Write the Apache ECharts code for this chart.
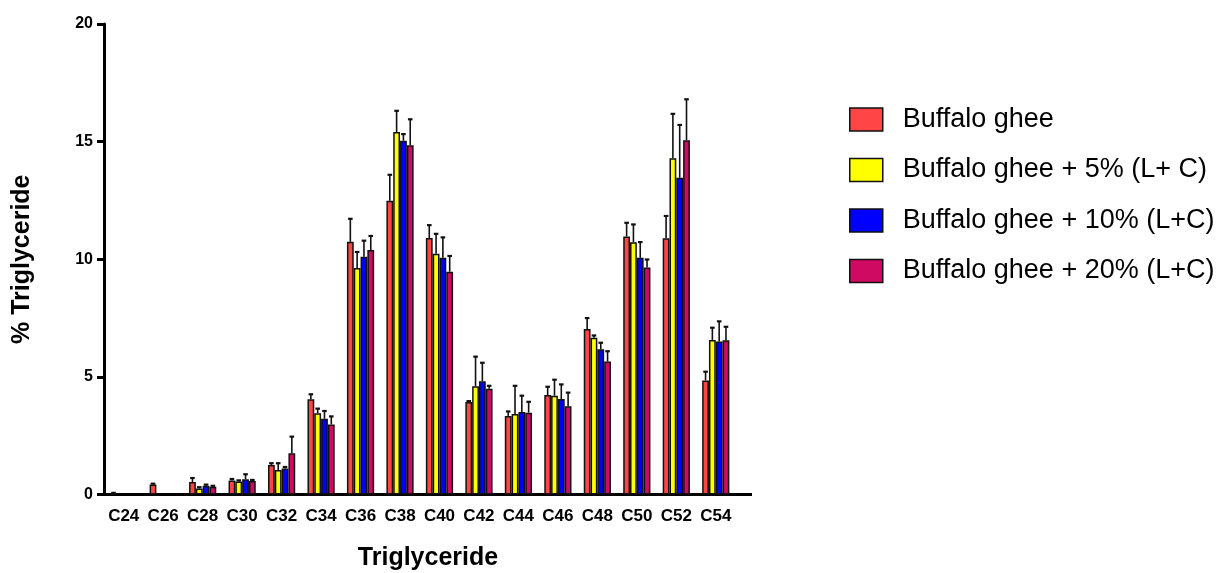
<!DOCTYPE html>
<html><head><meta charset="utf-8">
<script src="https://cdn.jsdelivr.net/npm/echarts@6/dist/echarts.min.js"></script>
<style>html,body{margin:0;padding:0;background:#fff}#c{width:1217px;height:573px}</style>
</head><body><div id="c"></div>
<script>
const categories = ['C24','C26','C28','C30','C32','C34','C36','C38','C40','C42','C44','C46','C48','C50','C52','C54'];
const seriesNames = ['Buffalo ghee','Buffalo ghee + 5% (L+ C)','Buffalo ghee + 10% (L+C)','Buffalo ghee + 20% (L+C)'];
const colors = ['#FF4545','#FFFF00','#0000FF','#CF0A62'];
const yTicks = [0,5,10,15,20];

const ghee    = [0.05, 0.42, 0.53, 0.60, 1.25, 4.05, 10.74, 12.49, 10.90, 3.93, 3.34, 4.23, 7.03, 10.97, 10.89, 4.85];
const ghee5   = [null, null, 0.26, 0.55, 1.04, 3.45, 9.63, 15.41, 10.23, 4.60, 3.42, 4.20, 6.66, 10.72, 14.29, 6.57];
const ghee10  = [null, null, 0.37, 0.65, 1.10, 3.22, 10.11, 15.04, 10.06, 4.81, 3.51, 4.06, 6.17, 10.06, 13.46, 6.50];
const ghee20  = [null, null, 0.33, 0.57, 1.75, 2.98, 10.39, 14.85, 9.47, 4.50, 3.48, 3.75, 5.65, 9.65, 15.06, 6.56];

const gheeErr   = [0.02, 0.04, 0.17, 0.06, 0.08, 0.21, 0.98, 1.10, 0.55, 0.04, 0.19, 0.35, 0.47, 0.58, 0.95, 0.37];
const ghee5Err  = [null, null, 0.05, 0.05, 0.29, 0.20, 0.68, 0.90, 0.85, 1.26, 1.20, 0.68, 0.10, 0.76, 1.89, 0.52];
const ghee10Err = [null, null, 0.05, 0.21, 0.07, 0.33, 0.68, 0.28, 0.87, 0.79, 0.69, 0.62, 0.28, 0.67, 2.25, 0.86];
const ghee20Err = [null, null, 0.04, 0.05, 0.71, 0.34, 0.60, 1.10, 0.67, 0.12, 0.46, 0.58, 0.44, 0.34, 1.74, 0.57];

const values = [ghee, ghee5, ghee10, ghee20];
const errors = [gheeErr, ghee5Err, ghee10Err, ghee20Err];

const FONT = "'Liberation Sans', Arial, sans-serif";
const GAP = 0.31;
const gridLeft = 104, gridRight = 481.5, gridTop = 24, gridBottom = 78.5;

function makeErr(si) {
  return function (params, api) {
    const cat = api.value(0), v = api.value(1), e = api.value(2);
    if (v == null || isNaN(v) || isNaN(e)) return;
    const band = api.size([1, 0])[0];
    const bw = band * (1 - GAP) / 4;
    const base = api.coord([cat, v]);
    const top = api.coord([cat, v + e]);
    const x = base[0] + (si - 1.5) * bw;
    return {
      type: 'group',
      children: [
        { type: 'line', shape: { x1: x, y1: base[1], x2: x, y2: top[1] }, style: { stroke: '#111', lineWidth: 1.6 } },
        { type: 'line', shape: { x1: x - 2.3, y1: top[1], x2: x + 2.3, y2: top[1] }, style: { stroke: '#111', lineWidth: 2.2 } }
      ]
    };
  };
}

const series = [];
values.forEach((vals, i) => {
  series.push({
    name: seriesNames[i], type: 'bar', data: vals,
    barGap: '0%', barCategoryGap: (GAP * 100) + '%',
    itemStyle: { color: colors[i], borderColor: '#111', borderWidth: 1.5 },
    z: 2
  });
});
values.forEach((vals, i) => {
  series.push({
    name: 'err' + i, type: 'custom', renderItem: makeErr(i), z: 3,
    data: vals.map((v, k) => [k, v == null ? NaN : v, errors[i][k] == null ? NaN : errors[i][k]])
  });
});

const chart = echarts.init(document.getElementById('c'), null, { renderer: 'canvas' });
chart.setOption({
  animation: false,
  backgroundColor: '#fff',
  textStyle: { fontFamily: FONT },
  grid: { left: gridLeft, right: gridRight, top: gridTop, bottom: gridBottom, containLabel: false, outerBoundsMode: 'none' },
  legend: {
    data: seriesNames, orient: 'vertical', left: 849, top: 106, padding: 0,
    itemWidth: 33, itemHeight: 23, itemGap: 23.5, icon: 'rect',
    itemStyle: { borderColor: '#111', borderWidth: 1.5 },
    textStyle: { fontFamily: FONT, fontSize: 27, color: '#000', lineHeight: 23, padding: [0, 0, 0, 15] }
  },
  xAxis: {
    type: 'category', data: categories,
    axisLine: { lineStyle: { color: '#000', width: 3 } },
    axisTick: { alignWithLabel: true, length: 7, lineStyle: { color: '#000', width: 3 } },
    axisLabel: { color: '#000', fontSize: 17, fontWeight: 'bold', margin: 13, fontFamily: FONT, interval: 0 },
    splitLine: { show: false }
  },
  yAxis: {
    type: 'value', min: 0, max: yTicks[yTicks.length - 1], interval: 5,
    name: '% Triglyceride', nameLocation: 'middle', nameRotate: 90, nameGap: 69,
    nameTextStyle: { fontSize: 25, fontWeight: 'bold', color: '#000', fontFamily: FONT },
    axisLine: { show: true, lineStyle: { color: '#000', width: 3 } },
    axisTick: { show: true, length: 7, lineStyle: { color: '#000', width: 3 } },
    axisLabel: { color: '#000', fontSize: 16, fontWeight: 'bold', margin: 11, fontFamily: FONT },
    splitLine: { show: false }
  },
  graphic: [
    { type: 'line', shape: { x1: 1217 - gridRight - 1, y1: 573 - gridBottom, x2: 752, y2: 573 - gridBottom },
      style: { stroke: '#000', lineWidth: 3 }, z: 10 },
    { type: 'text', x: 428, y: 558, style: { text: 'Triglyceride', font: 'bold 25px ' + FONT, fill: '#000', textAlign: 'center', textVerticalAlign: 'middle' } }
  ],
  series: series
});
</script></body></html>
